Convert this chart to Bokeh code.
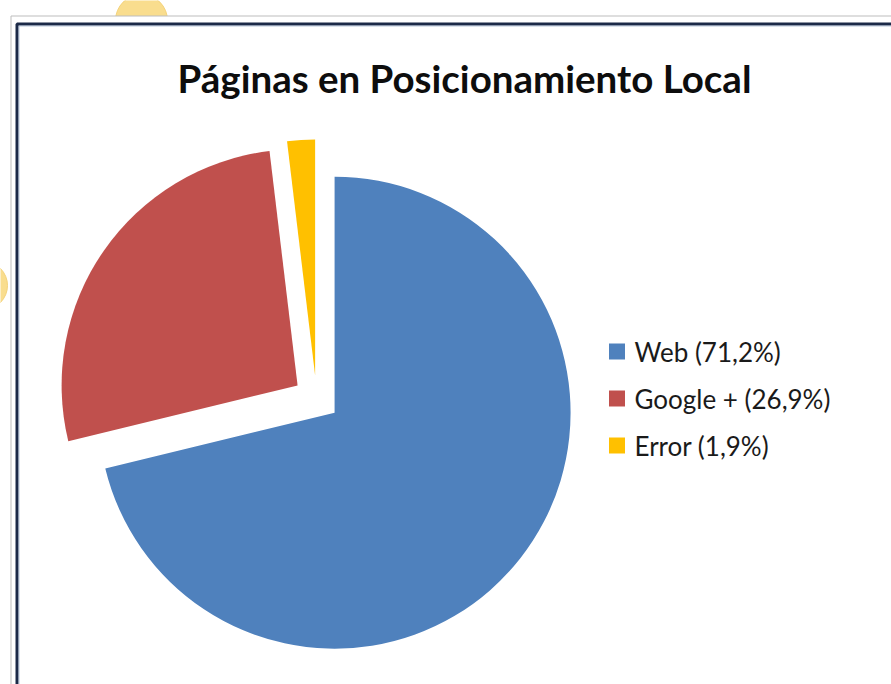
import math
from bokeh.plotting import figure
from bokeh.models import Range1d, ColumnDataSource
from bokeh.core.properties import value
from bokeh.embed import file_html
from bokeh.resources import INLINE

# ---- data ----
categories = ["Web", "Google +", "Error"]
percent = [71.2, 26.9, 1.9]
colors = ["#4F81BD", "#C0504D", "#FFC000"]
title_text = "Páginas en Posicionamiento Local"

W, H = 891, 684
def Y(v):
    return H - v

p = figure(width=W, height=H, x_range=Range1d(0, W), y_range=Range1d(0, H),
           output_backend="svg", toolbar_location=None,
           x_axis_type=None, y_axis_type=None, min_border=0)
p.grid.visible = False
p.outline_line_color = None
p.background_fill_color = "white"
p.border_fill_color = "white"

# selection-handle circles behind the chart area
p.circle(x=[141, -17], y=[Y(20), Y(285)], radius=[26, 24],
         fill_color="#F9DD8E", line_color="#F3D27A", line_width=1)

# chart area with frames
p.quad(left=[10.5], right=[1200], top=[Y(15.5)], bottom=[-200],
       fill_color="white", line_color="#BDBDBD", line_width=1)
p.quad(left=[16.5], right=[1200], top=[Y(23.5)], bottom=[-200],
       fill_color=None, line_color="#1C2A48", line_width=3)
p.quad(left=[18.5], right=[1200], top=[Y(25.5)], bottom=[-200],
       fill_color=None, line_color="#8EA3C4", line_width=1, line_alpha=0.6)

# ---- pie ----
cx, cy = 316, Y(398)
radius = 236
explode = 23
total = sum(percent)
xs, ys, starts, ends = [], [], [], []
cum = 0.0
for v in percent:
    a0 = cum / total * 360.0
    a1 = (cum + v) / total * 360.0
    cum += v
    mid = math.radians(90 - (a0 + a1) / 2)
    xs.append(cx + explode * math.cos(mid))
    ys.append(cy + explode * math.sin(mid))
    starts.append(math.radians(90 - a1))
    ends.append(math.radians(90 - a0))
src = ColumnDataSource(dict(x=xs, y=ys, start=starts, end=ends, color=colors))
p.wedge(x="x", y="y", radius=radius, start_angle="start", end_angle="end",
        fill_color="color", line_color=None, source=src)

# ---- title ----
p.text(x=[464], y=[Y(77)], text=[title_text], text_font=value("Lato"),
       text_font_style="bold", text_font_size="38.5px", text_color="#0d0d0d",
       text_align="center", text_baseline="middle")

# ---- legend ----
labels = [f"{c} ({v:.1f}%)".replace(".", ",") for c, v in zip(categories, percent)]
lx, ly0, dy = 616.5, 351, 47
leg_y = [Y(ly0 + i * dy) for i in range(len(labels))]
p.rect(x=[lx] * len(labels), y=leg_y, width=16, height=16,
       fill_color=colors, line_color=None)
p.text(x=[634] * len(labels), y=leg_y, text=labels, text_font=value("Lato"),
       text_font_size="26px", text_color="#1a1a1a",
       text_align="left", text_baseline="middle")

open("out.html", "w").write(file_html(p, INLINE))
